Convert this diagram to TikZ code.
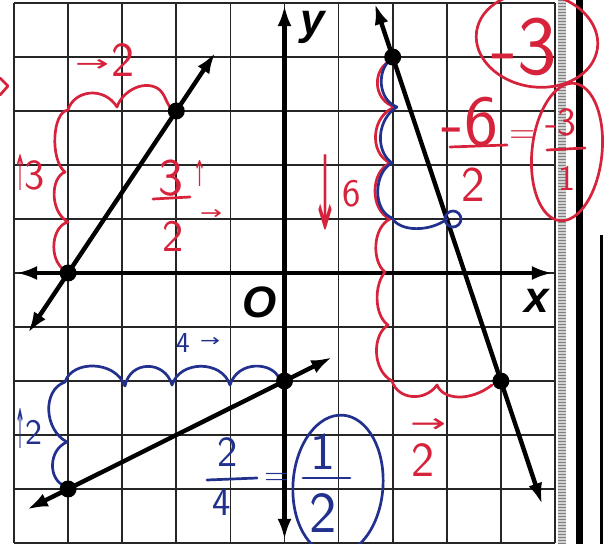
\documentclass[tikz,border=0pt]{standalone}
\usepackage{fontspec}
\newfontfamily\labfont{Liberation Sans}
\newfontfamily\symfont{DejaVu Sans}
\usetikzlibrary{arrows.meta}
\definecolor{pred}{RGB}{214,34,58}
\definecolor{pblue}{RGB}{34,48,142}
\newcommand\fsz[1]{\fontsize{#1}{#1}\selectfont}
\newcommand\harrow[3]{\resizebox*{#1}{#2}{\symfont #3}}
\tikzset{
  gridln/.style={line width=1.7pt, black!85},
  axisln/.style={line width=4.6pt, black},
  graphln/.style={line width=4.4pt, black},
  ptdot/.style={circle, fill=black, inner sep=0pt, minimum size=17pt},
  redpen/.style={pred, line width=2.7pt, line cap=round, line join=round},
  bluepen/.style={pblue, line width=2.7pt, line cap=round, line join=round},
  hand/.style={font=\sffamily, inner sep=0pt},
  axlabel/.style={font=\labfont\bfseries\itshape\fsz{44}, inner sep=0pt},
}
\begin{document}
\begin{tikzpicture}[x=1pt, y=-1pt, >={Latex[length=21pt,width=14pt]}]
\useasboundingbox (0,0) rectangle (606,544);
\fill[white] (0,0) rectangle (606,544);
% page margin on the right
\fill[black!18] (558,0) rectangle (566,544);
\draw[black!50, line width=8pt, dash pattern=on 0.8pt off 2.2pt] (562,0) -- (562,544);
\draw[line width=7pt] (579,0) -- (579,544);
\draw[line width=3pt] (601.5,235) -- (601.5,544);

\begin{scope}[shift={(284.5pt,-273pt)}, x=54.1pt, y=54pt]
  \draw[gridln, step=1] (-5,-5) grid (5,5);
  \coordinate (xl) at (-4.96,0);
  \coordinate (xr) at (4.96,0);
  \coordinate (yb) at (0,-4.94);
  \coordinate (yt) at (0,4.96);
  \draw[axisln,<->] (xl) -- (xr);
  \draw[axisln,<->] (yb) -- (yt);
  % points
  \coordinate (A) at (-4,0);
  \coordinate (B) at (-2,3);
  \coordinate (C) at (0,-2);
  \coordinate (D) at (-4,-4);
  \coordinate (E) at (2,4);
  \coordinate (F) at (4,-2);
  \coordinate (G) at (3,1);
  % line ends
  \coordinate (l1a) at (-4.74,-1.11);
  \coordinate (l1b) at (-1.28,4.08);
  \coordinate (l2a) at (-4.76,-4.38);
  \coordinate (l2b) at (0.88,-1.56);
  \coordinate (l3a) at (1.67,4.99);
  \coordinate (l3b) at (4.76,-4.28);
  \draw[graphln,<->] (l1a) -- (A) -- (B) -- (l1b);
  \draw[graphln,<->] (l2a) -- (D) -- (C) -- (l2b);
  \draw[graphln,<->] (l3a) -- (E) -- (F) -- (l3b);
\end{scope}

% axis labels
\node[axlabel] (ylab) at (313,27) {y};
\node[axlabel] (xlab) at (537,301) {x};
\node[axlabel] (olab) at (260,302) {O};

% ---------- red annotations ----------
\draw[redpen] (0,78) -- (8,86) -- (0,95);
% run brace for line 1
\draw[redpen] (68,110) .. controls (74,90) and (104,86) .. (117,107)
  .. controls (122,92) and (142,80) .. (157,88)
  .. controls (166,93) and (166,106) .. (174,111);
% rise brace for line 1
\draw[redpen] (68,110) .. controls (52,112) and (50,160) .. (65,172)
  .. controls (50,178) and (50,212) .. (68,222)
  .. controls (52,226) and (48,258) .. (64,270);
\node[hand, pred] (ra1) at (92,65) {\harrow{34pt}{12pt}{→}};
\node[hand, pred] (rt2) at (123,60) {\fsz{49}2};
\node[hand, pred] (ra2) at (20,172) {\harrow{12pt}{36pt}{↑}};
\node[hand, pred] (rt3) at (35,175) {\fsz{43}3};
% 3 up over 2 right
\node[hand, pred] (rf3) at (171,178) {\fsz{53}3};
\node[hand, pred] (ra3) at (200,173) {\harrow{13pt}{26pt}{↑}};
\draw[redpen] (153,199) -- (190,197);
\node[hand, pred] (rf2) at (173,236) {\fsz{45}2};
\node[hand, pred] (ra4) at (211,214) {\harrow{22pt}{10pt}{→}};
% down 6
\node[hand, pred] (ra5) at (325,192) {\harrow{26pt}{75pt}{↓}};
\node[hand, pred] (rt6) at (352,194) {\fsz{39}6};
% rise / run braces for line 3
\draw[redpen] (392,60) .. controls (372,68) and (372,100) .. (395,107)
  .. controls (372,115) and (368,152) .. (390,163)
  .. controls (370,172) and (370,210) .. (390,219)
  .. controls (372,228) and (372,262) .. (385,272)
  .. controls (374,285) and (374,315) .. (388,325)
  .. controls (372,335) and (372,370) .. (392,381)
  .. controls (398,400) and (425,402) .. (437,385)
  .. controls (443,400) and (470,402) .. (492,385);
\node[hand, pred] (ra6) at (428,425) {\harrow{36pt}{14pt}{→}};
\node[hand, pred] (rt7) at (423,460) {\fsz{49}2};
% -6 / 2
\node[hand, pred] (rn6) at (470,122) {\fsz{72}-6};
\draw[redpen] (450,147) -- (507,145);
\node[hand, pred] (rd2) at (473,185) {\fsz{50}2};
\node[hand, pred] (req) at (523,137) {\fsz{36}=};
\draw[redpen, rotate around={-6:(567,152)}] (567,152) ellipse [x radius=35, y radius=69];
\node[hand, pred] (rn3) at (561,122) {\fsz{40}-3};
\draw[redpen] (547,150) -- (585,148);
\node[hand, pred] (rd1) at (567,178) {\fsz{36}1};
% circled -3
\draw[redpen, rotate around={-8:(537,40)}] (537,40) ellipse [x radius=61, y radius=47];
\node[hand, pred] (rres) at (524,47) {\fsz{84}-3};

% ---------- blue annotations ----------
\draw[bluepen] (392,58) .. controls (376,70) and (378,100) .. (397,107)
  .. controls (378,118) and (374,150) .. (392,163)
  .. controls (374,172) and (372,210) .. (392,218)
  .. controls (400,232) and (430,232) .. (447,219);
\draw[bluepen] (453,219) circle [radius=8];
% run brace for line 2
\draw[bluepen] (65,382) .. controls (72,360) and (115,360) .. (125,386)
  .. controls (130,360) and (165,360) .. (172,385)
  .. controls (180,360) and (222,360) .. (230,385)
  .. controls (238,360) and (272,362) .. (279,378);
% rise brace for line 2
\draw[bluepen] (65,382) .. controls (42,390) and (44,430) .. (67,442)
  .. controls (48,450) and (48,480) .. (65,486);
\node[hand, pblue] (bt4) at (183,343) {\fsz{29}4};
\node[hand, pblue] (ba1) at (210,342) {\harrow{20pt}{9pt}{→}};
\node[hand, pblue] (ba2) at (20,428) {\harrow{10pt}{40pt}{↑}};
\node[hand, pblue] (bt2) at (34,432) {\fsz{36}2};
% 2/4 = 1/2
\node[hand, pblue] (bn2) at (228,452) {\fsz{43}2};
\draw[bluepen] (207,480) -- (257,478);
\node[hand, pblue] (bd4) at (222,503) {\fsz{39}4};
\node[hand, pblue] (beq) at (277,479) {\fsz{34}=};
\node[hand, pblue] (bn1) at (323,452) {\fsz{53}1};
\draw[bluepen] (303,478) -- (350,478);
\node[hand, pblue] (bd2) at (323,513) {\fsz{58}2};
\draw[bluepen, rotate around={-4:(338,485)}] (338,485) ellipse [x radius=45, y radius=70];

% points on top
\begin{scope}[shift={(284.5pt,-273pt)}, x=54.1pt, y=54pt]
  \node[ptdot] (pA) at (A) {};
  \node[ptdot] (pB) at (B) {};
  \node[ptdot] (pC) at (C) {};
  \node[ptdot] (pD) at (D) {};
  \node[ptdot] (pE) at (E) {};
  \node[ptdot] (pF) at (F) {};
\end{scope}
\end{tikzpicture}
\end{document}
